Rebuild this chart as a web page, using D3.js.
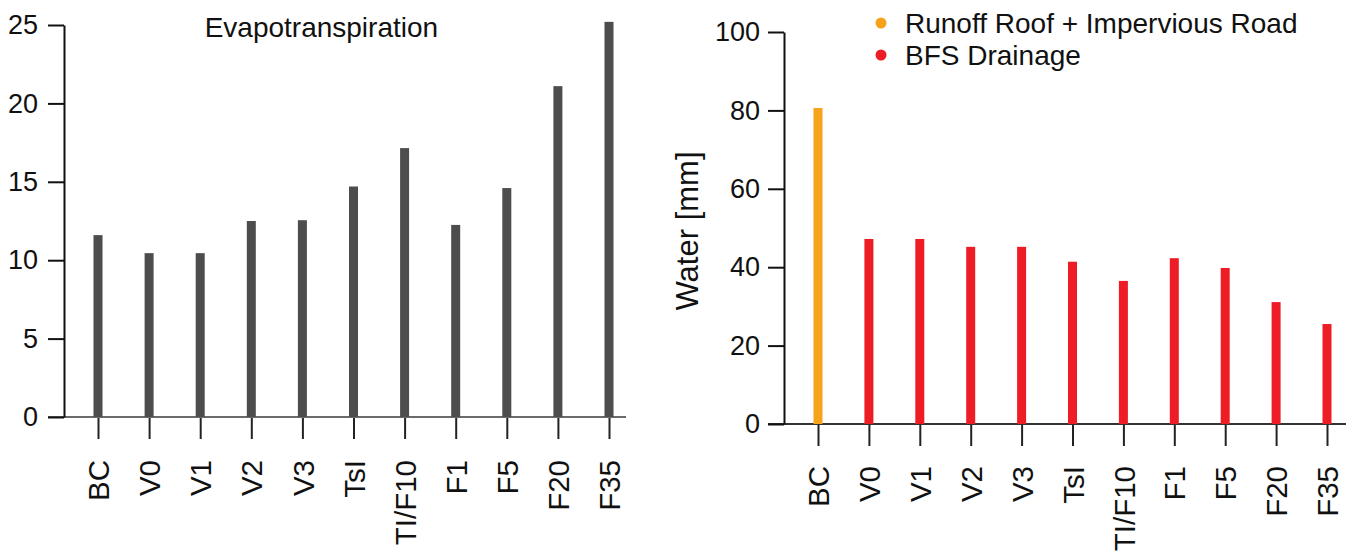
<!DOCTYPE html>
<html>
<head>
<meta charset="utf-8">
<script src="https://cdn.jsdelivr.net/npm/d3@7"></script>
<style>
    body { margin: 0; background: #fff; }
    text { font-family: "Liberation Sans", Arial, sans-serif; fill: #111; }
</style>
</head>
<body>
<svg id="chart" width="1362" height="552"></svg>
<script>
// categories (same for both panels)
const categories = ["BC", "V0", "V1", "V2", "V3", "TsI", "TI/F10", "F1", "F5", "F20", "F35"];

// left panel: evapotranspiration [mm]
const etValues = [11.6, 10.45, 10.45, 12.5, 12.55, 14.7, 17.15, 12.25, 14.6, 21.1, 25.2];
const etTicks = [0, 5, 10, 15, 20, 25];

// right panel: water [mm]
const waterValues = [80.6, 47.2, 47.2, 45.2, 45.2, 41.4, 36.5, 42.3, 39.8, 31.1, 25.5];
const waterSeries = ["runoff", "drainage", "drainage", "drainage", "drainage", "drainage",
    "drainage", "drainage", "drainage", "drainage", "drainage"];
const waterTicks = [0, 20, 40, 60, 80, 100];

const legendKeys = ["runoff", "drainage"];
const legendLabels = ["Runoff Roof + Impervious Road", "BFS Drainage"];
const colors = {runoff: "#f7a21b", drainage: "#ee1d25"};

let svg = d3.select("#chart");
let height = 392;
let barW = 9;

// category axis with rotated labels
function drawCatAxis(g, x, lineColor, labelGap) {
    let ax = g.append("g")
        .attr("transform", `translate(0,${height})`)
        .call(d3.axisBottom(x).tickSize(22).tickSizeOuter(0));
    ax.select(".domain").remove();
    ax.selectAll(".tick line").attr("stroke", "#222").attr("stroke-width", 2);
    ax.selectAll(".tick text")
        .attr("transform", "rotate(-90)")
        .attr("text-anchor", "end")
        .attr("x", -labelGap)
        .attr("y", 0)
        .attr("dy", "0.36em")
        .style("font-size", "29.5px")
        .style("fill", "#111");
    // base line
    g.append("line")
        .attr("x1", -16).attr("x2", 562)
        .attr("y1", height).attr("y2", height)
        .attr("stroke", lineColor)
        .attr("stroke-width", 2);
}

function drawValueAxis(g, y, ticks, pad) {
    let ax = g.append("g")
        .call(d3.axisLeft(y).tickValues(ticks).tickSize(16).tickSizeOuter(0).tickPadding(pad));
    ax.select(".domain").attr("stroke", "#111").attr("stroke-width", 2);
    ax.selectAll(".tick line").attr("stroke", "#111").attr("stroke-width", 2);
    ax.selectAll(".tick text")
        .style("font-size", "27px")
        .style("fill", "#111");
}

// ---------- left panel ----------
let g1 = svg.append("g").attr("transform", "translate(64,25)");

let x1 = d3.scalePoint().domain(categories).range([34, 545]);
let y1 = d3.scaleLinear().domain([0, 25]).range([height, 0]);

drawCatAxis(g1, x1, "#6b6b6b", 43);

g1.selectAll(".bar")
    .data(categories)
    .enter().append("rect")
    .attr("class", "bar")
    .attr("x", (d) => x1(d) - barW / 2)
    .attr("width", barW)
    .attr("y", (d, i) => y1(etValues[i]))
    .attr("height", (d, i) => y1(0) - y1(etValues[i]))
    .attr("fill", "#4d4d4d");

drawValueAxis(g1, y1, etTicks, 10);

// title
g1.append("text")
    .attr("x", x1("V3") + 19)
    .attr("y", 12)
    .attr("text-anchor", "middle")
    .style("font-size", "28px")
    .text("Evapotranspiration");

// ---------- right panel ----------
let g2 = svg.append("g").attr("transform", "translate(784,32)");

let x2 = d3.scalePoint().domain(categories).range([34, 543]);
let y2 = d3.scaleLinear().domain([0, 100]).range([height, 0]);

drawCatAxis(g2, x2, "#333", 42);

g2.selectAll(".bar")
    .data(categories)
    .enter().append("rect")
    .attr("class", "bar")
    .attr("x", (d) => x2(d) - barW / 2)
    .attr("width", barW)
    .attr("y", (d, i) => y2(waterValues[i]))
    .attr("height", (d, i) => y2(0) - y2(waterValues[i]))
    .attr("fill", (d, i) => colors[waterSeries[i]]);

drawValueAxis(g2, y2, waterTicks, 8);

// y label
g2.append("text")
    .attr("transform", "rotate(-90)")
    .attr("x", -(y2(50) + 3))
    .attr("y", -97)
    .attr("dy", "0.35em")
    .attr("text-anchor", "middle")
    .style("font-size", "31px")
    .text("Water [mm]");

// legend
let legend = g2.append("g").attr("transform", "translate(97,-9)");
legendKeys.forEach((k, i) => {
    let row = legend.append("g").attr("transform", `translate(0,${i * 32})`);
    row.append("circle")
        .attr("r", 5.5)
        .attr("fill", colors[k]);
    row.append("text")
        .attr("x", 24)
        .attr("dy", "0.35em")
        .style("font-size", "28px")
        .text(legendLabels[i]);
});
</script>
</body>
</html>
